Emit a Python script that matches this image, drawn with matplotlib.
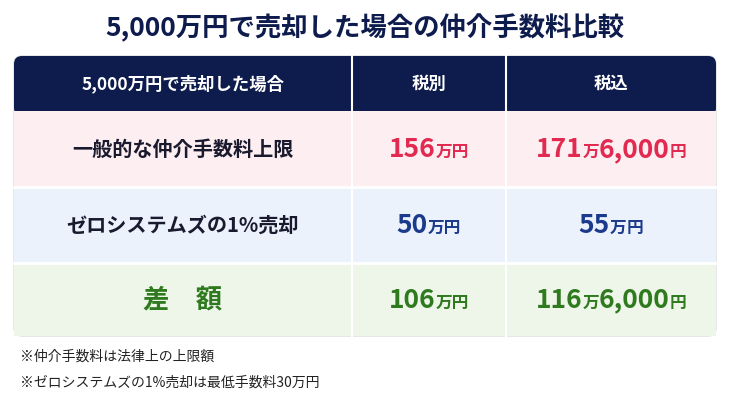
import matplotlib.pyplot as plt
from matplotlib.patches import FancyBboxPatch, Rectangle

plt.rcParams['font.family'] = ['Noto Sans CJK JP', 'DejaVu Sans']

title = "5,000万円で売却した場合の仲介手数料比較"
headers = ["5,000万円で売却した場合", "税別", "税込"]
row_labels = ["一般的な仲介手数料上限", "ゼロシステムズの1%売却", "差額"]
tax_excl_man = [156, 50, 106]            # 万円
tax_incl_yen = [1716000, 550000, 1166000]  # 円
notes = ["※仲介手数料は法律上の上限額", "※ゼロシステムズの1%売却は最低手数料30万円"]

row_bg = ["#fdeef1", "#ebf2fc", "#eef6e9"]
row_fg = ["#e2294f", "#1b3a8c", "#2f7a1f"]
navy = "#0e1b4d"

fig = plt.figure(figsize=(7.3, 4.11), dpi=100)
ax = fig.add_axes([0, 0, 1, 1])
ax.set_xlim(0, 730)
ax.set_ylim(411, 0)
ax.axis("off")
renderer = fig.canvas.get_renderer()


def mixed(xc, y, parts, color):
    texts = [ax.text(0, y, t, fontsize=s, color=color, fontweight="bold",
                     va="baseline", ha="left") for t, s in parts]
    inv = ax.transData.inverted()
    widths = []
    for t in texts:
        bb = t.get_window_extent(renderer)
        x0 = inv.transform((bb.x0, bb.y0))[0]
        x1 = inv.transform((bb.x1, bb.y0))[0]
        widths.append(x1 - x0)
    x = xc - sum(widths) / 2
    for t, w in zip(texts, widths):
        t.set_x(x)
        x += w


def fmt_incl(yen):
    man, rest = divmod(yen, 10000)
    parts = [(str(man), 19), ("万", 12)]
    if rest:
        parts += [(f"{rest:,}", 19)]
    parts += [("円", 12)]
    return parts


ax.text(365, 28, title, ha="center", va="center", fontsize=19,
        fontweight="bold", color=navy)

cols = [14, 352, 506, 716]
centers = [(cols[i] + cols[i + 1]) / 2 for i in range(3)]
ys = [56, 111, 187, 263, 336]

# outer rounded background
ax.add_patch(FancyBboxPatch((14, 56), 702, 280, boxstyle="round,pad=0,rounding_size=8",
                            fc="white", ec="#dddddd", lw=1))
ax.add_patch(FancyBboxPatch((14, 56), 702, 60, boxstyle="round,pad=0,rounding_size=8",
                            fc=navy, ec="none"))
for i in range(3):
    ax.add_patch(Rectangle((14, ys[i + 1]), 702, ys[i + 2] - ys[i + 1],
                           fc=row_bg[i], ec="none"))
ax.add_patch(FancyBboxPatch((14, 300), 702, 36, boxstyle="round,pad=0,rounding_size=8",
                            fc=row_bg[2], ec="none"))
ax.add_patch(Rectangle((14, 263), 702, 50, fc=row_bg[2], ec="none"))
for x in cols[1:3]:
    ax.plot([x, x], [56, 336], color="white", lw=1.5)
for y in ys[2:4]:
    ax.plot([14, 716], [y, y], color="white", lw=2)

for c, h in zip(centers, headers):
    ax.text(c, 84, h, ha="center", va="center", fontsize=12.5,
            fontweight="bold", color="white")

for i in range(3):
    yc = (ys[i + 1] + ys[i + 2]) / 2
    if i == 2:
        ax.text(centers[0], yc, "差　額", ha="center", va="center", fontsize=19,
                fontweight="bold", color=row_fg[2])
    else:
        ax.text(centers[0], yc, row_labels[i], ha="center", va="center",
                fontsize=14.5, fontweight="bold", color="#1a1a2e")
    mixed(centers[1], yc + 8, [(str(tax_excl_man[i]), 19), ("万円", 12)], row_fg[i])
    mixed(centers[2], yc + 8, fmt_incl(tax_incl_yen[i]), row_fg[i])

ax.text(20, 357, notes[0], va="center", fontsize=10, color="#222222")
ax.text(20, 383, notes[1], va="center", fontsize=10, color="#222222")

fig.savefig("out.png", dpi=100)
